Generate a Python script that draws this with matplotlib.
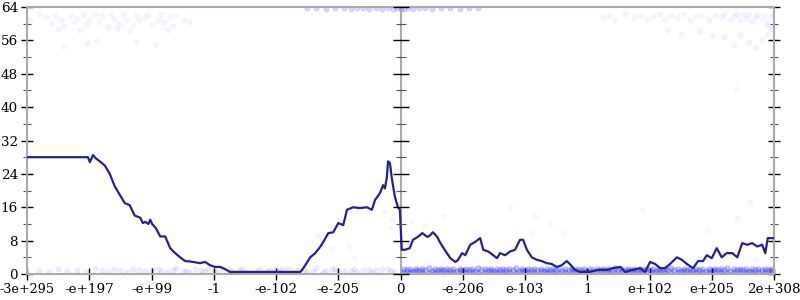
import numpy as np
import matplotlib.pyplot as plt

# tick labels along x (positions -6..6, one per label)
xlabels = ['-3e+295', '-e+197', '-e+99', '-1', '-e-102', '-e-205', '0',
           '-e-206', 'e-103', '1', 'e+102', 'e+205', '2e+308']
yticks = [0, 8, 16, 24, 32, 40, 48, 56, 64]

# main line
line_x = [-6.00, -5.02, -4.99, -4.94, -4.90, -4.83, -4.75, -4.67, -4.59, -4.51, -4.43, -4.35,
          -4.27, -4.18, -4.14, -4.10, -4.05, -4.02, -3.99, -3.93, -3.86, -3.78, -3.70, -3.62,
          -3.54, -3.46, -3.38, -3.30, -3.22, -3.14, -3.06, -2.98, -2.90, -2.82, -2.74, -2.66,
          -2.20, -1.61, -1.58, -1.53, -1.45, -1.37, -1.29, -1.24, -1.16, -1.08, -1.00, -0.92,
          -0.86, -0.76, -0.65, -0.54, -0.46, -0.41, -0.33, -0.28, -0.25, -0.22, -0.20, -0.17,
          -0.14, -0.09, -0.04, -0.01, 0.02, 0.07, 0.15, 0.20, 0.28, 0.35, 0.43, 0.47,
          0.52, 0.59, 0.63, 0.71, 0.80, 0.88, 0.92, 0.99, 1.04, 1.12, 1.20, 1.28,
          1.33, 1.41, 1.49, 1.55, 1.60, 1.68, 1.76, 1.84, 1.92, 1.97, 2.03, 2.11,
          2.19, 2.27, 2.35, 2.43, 2.51, 2.59, 2.67, 2.72, 2.80, 2.88, 3.04, 3.17,
          3.20, 3.32, 3.41, 3.53, 3.61, 3.73, 3.85, 3.93, 4.01, 4.09, 4.17, 4.25,
          4.33, 4.44, 4.52, 4.60, 4.70, 4.78, 4.86, 4.92, 5.00, 5.08, 5.16, 5.24,
          5.33, 5.41, 5.49, 5.57, 5.65, 5.73, 5.81, 5.86, 5.90, 5.98]
line_y = [28, 28, 26.8, 28.5, 27.8, 27, 26, 24, 21, 19, 17, 16.5,
          14, 13.5, 12.2, 12.5, 12.0, 13, 12, 11, 9, 9, 6.2, 5,
          4, 3.1, 3, 2.8, 2.6, 2.9, 2.1, 1.7, 1.7, 1.2, 0.5, 0.5,
          0.5, 0.5, 1.0, 2.1, 4, 5, 6.5, 7.7, 9.8, 10, 12.2, 11.7,
          15.4, 16, 15.8, 16, 15.4, 17.7, 19.4, 21.3, 20.5, 23, 27, 26.6,
          23, 18.5, 16, 15.4, 5.8, 5.8, 6.2, 8.2, 8.9, 9.8, 8.9, 9.2,
          10, 8.9, 7.7, 5.8, 3.8, 2.9, 3.3, 5, 4.5, 7, 7.7, 8.6,
          5.8, 5.4, 4.5, 3.8, 5, 4.5, 5.4, 5.8, 8.2, 8.2, 5.8, 4,
          3.4, 3.1, 2.6, 2.4, 1.7, 2.1, 3.1, 2.4, 1.0, 0.5, 0.5, 1.0,
          1.0, 1.0, 1.4, 1.7, 0.5, 1.0, 1.4, 0.5, 2.9, 2.4, 1.4, 1.4,
          2.4, 4, 3.4, 2.4, 1.4, 3.1, 3.1, 4.5, 3.8, 6.2, 4, 5,
          5, 4, 7.4, 7, 7.4, 6.6, 7, 5, 8.6, 8.6]

# faint samples near the bottom, left half
bl_x = [-5.8, -5.5, -5.2, -4.9, -4.7, -4.5, -4.3, -4.1, -3.9, -3.75, -3.6, -3.45,
        -3.3, -3.15, -3.0, -2.85, -2.7, -2.55, -2.4, -2.25, -2.1, -1.95, -1.8, -1.65,
        -1.5, -1.35, -1.2, -1.05, -0.9, -0.75, -0.6, -0.45, -0.3, -0.15,
        -4.0, -3.5, -3.1, -2.6, -2.3, -1.9, -1.4, -1.1, -0.8, -0.5, -0.2,
        -5.65, -5.35, -5.05, -4.8, -4.6, -4.4, -4.2, -3.85, -3.65, -3.4, -3.2, -2.95,
        -2.75, -2.5, -2.15, -2.0, -1.75, -1.55, -1.25, -1.0, -0.7, -0.4, -0.1]
bl_y = [0.6, 1.2, 0.9, 1.4, 0.5, 1.0, 1.3, 0.7, 1.1, 0.5, 1.4, 0.8,
        1.2, 0.6, 1.0, 1.4, 0.7, 1.1, 0.5, 1.3, 0.9, 0.6, 1.2, 1.0,
        0.5, 1.4, 0.8, 1.1, 0.6, 1.3, 0.9, 0.5, 1.2, 0.8,
        1.0, 0.7, 1.2, 0.9, 0.6, 1.1, 0.8, 1.3, 0.6, 1.0, 1.2,
        0.4, 0.8, 0.5, 0.9, 1.2, 0.4, 0.9, 0.6, 1.0, 0.4, 0.9, 0.5,
        1.0, 0.4, 0.7, 1.1, 0.4, 0.9, 0.4, 0.7, 0.4, 0.9, 0.5]

# dense samples near the bottom, right half
br_x = [0.05, 0.15, 0.25, 0.35, 0.45, 0.55, 0.65, 0.75, 0.85, 0.95, 1.05, 1.15,
        1.25, 1.35, 1.45, 1.55, 1.65, 1.75, 1.85, 1.95, 2.05, 2.15, 2.25, 2.35,
        2.45, 2.55, 2.65, 2.75, 2.85, 2.95, 3.05, 3.15, 3.25, 3.35, 3.45, 3.55,
        3.65, 3.75, 3.85, 3.95, 4.05, 4.15, 4.25, 4.35, 4.45, 4.55, 4.65, 4.75,
        4.85, 4.95, 5.05, 5.15, 5.25, 5.35, 5.45, 5.55, 5.65, 5.75, 5.85, 5.95]
br_x_mid = [0.1, 0.2, 0.3, 0.4, 0.5, 0.6, 0.7, 0.8, 0.9, 1.0, 1.1, 1.2,
            1.3, 1.4, 1.5, 1.6, 1.7, 1.8, 1.9, 2.0, 2.1, 2.2, 2.3, 2.4,
            2.5, 2.6, 2.7, 2.8, 2.9, 3.0, 3.1, 3.2, 3.3, 3.4, 3.5, 3.6,
            3.7, 3.8, 3.9, 4.0, 4.1, 4.2, 4.3, 4.4, 4.5, 4.6, 4.7, 4.8,
            4.9, 5.0, 5.1, 5.2, 5.3, 5.4, 5.5, 5.6, 5.7, 5.8, 5.9, 5.97]
br_y_low = [0.5, 0.4, 0.6, 0.5, 0.3, 0.5, 0.6, 0.4, 0.5, 0.6, 0.4, 0.5,
            0.3, 0.5, 0.6, 0.4, 0.5, 0.5, 0.3, 0.6, 0.4, 0.5, 0.6, 0.4,
            0.5, 0.3, 0.5, 0.6, 0.4, 0.5, 0.5, 0.4, 0.6, 0.5, 0.3, 0.5,
            0.6, 0.4, 0.5, 0.5, 0.4, 0.6, 0.5, 0.3, 0.5, 0.6, 0.4, 0.5,
            0.5, 0.4, 0.6, 0.5, 0.3, 0.5, 0.6, 0.4, 0.5, 0.5, 0.4, 0.6]
br_y_mid = [0.9, 0.8, 0.9, 1.0, 0.8, 0.9, 0.9, 1.0, 0.8, 0.9, 0.9, 0.8,
            1.0, 0.9, 0.8, 0.9, 1.0, 0.9, 0.8, 0.9, 0.9, 1.0, 0.8, 0.9,
            0.9, 0.8, 1.0, 0.9, 0.9, 0.8, 0.9, 1.0, 0.9, 0.8, 0.9, 0.9,
            1.0, 0.8, 0.9, 0.9, 0.8, 1.0, 0.9, 0.9, 0.8, 0.9, 1.0, 0.9,
            0.8, 0.9, 0.9, 1.0, 0.8, 0.9, 0.9, 0.8, 1.0, 0.9, 0.9, 0.8]
br_y_high = [1.2, 1.3, 1.1, 1.2, 1.4, 1.2, 1.1, 1.3, 1.2, 1.1, 1.3, 1.2,
             1.4, 1.2, 1.1, 1.3, 1.2, 1.2, 1.4, 1.1, 1.3, 1.2, 1.1, 1.3,
             1.2, 1.4, 1.2, 1.1, 1.3, 1.2, 1.2, 1.3, 1.1, 1.2, 1.4, 1.2,
             1.1, 1.3, 1.2, 1.2, 1.3, 1.1, 1.2, 1.4, 1.2, 1.1, 1.3, 1.2,
             1.2, 1.3, 1.1, 1.2, 1.4, 1.2, 1.1, 1.3, 1.2, 1.2, 1.3, 1.1]

# samples near the top
tl_x = [-5.95, -5.8, -5.7, -5.6, -5.55, -5.45, -5.4, -5.3, -5.25, -5.2, -5.1, -5.05,
        -5.0, -4.9, -4.85, -4.8, -4.7, -4.65, -4.6, -4.5, -4.45, -4.4, -4.3, -4.25,
        -4.2, -4.1, -4.05, -4.0, -3.9, -3.85, -3.8, -3.7, -3.65, -3.6, -3.5, -3.4,
        -5.41, -5.04, -4.88, -4.25, -3.93, -5.5, -5.15, -4.55, -4.35, -3.75]
tl_y = [61.0, 62.3, 61.5, 60.2, 62.0, 61.0, 59.5, 62.2, 60.5, 61.4, 62.3, 59.8,
        61.0, 62.4, 60.5, 61.8, 59.3, 62.0, 61.2, 60.0, 62.3, 61.0, 59.6, 62.1,
        60.8, 61.5, 62.3, 59.8, 61.0, 62.4, 60.3, 61.6, 59.5, 62.0, 61.0, 60.5,
        54.7, 55.4, 55.9, 55.6, 54.9, 58.8, 58.5, 58.9, 58.2, 58.6]

tr_x = [3.25, 3.35, 3.45, 3.6, 3.75, 3.85, 3.95, 4.05, 4.15, 4.25, 4.35, 4.45,
        4.55, 4.65, 4.75, 4.85, 4.95, 5.05, 5.15, 5.2, 5.3, 5.35, 5.4, 5.45,
        5.5, 5.55, 5.6, 5.65, 5.7, 5.75, 5.8, 5.85, 5.9, 5.95, 5.98, 5.88,
        4.3, 4.5, 4.8, 5.0, 5.2, 5.45, 5.6, 5.8, 5.95, 5.35, 5.7, 5.9]
tr_y = [61.5, 62.0, 61.0, 62.3, 61.5, 62.2, 60.8, 61.8, 62.3, 61.0, 62.0, 61.5,
        62.3, 60.8, 61.8, 62.2, 61.0, 62.0, 61.5, 62.4, 60.8, 61.8, 62.3, 61.0,
        62.0, 61.3, 62.4, 60.7, 61.8, 62.2, 61.0, 62.0, 60.5, 61.5, 62.3, 59.8,
        58.5, 57.5, 58.2, 57.0, 56.8, 57.2, 55.5, 56.2, 58.8, 55.0, 54.5, 57.5]

tc_x = [-1.5, -1.35, -1.2, -1.05, -0.9, -0.8, -0.7, -0.6, -0.5, -0.4, -0.3, -0.2,
        -0.12, -0.06, 0.0, 0.06, 0.12, 0.2, 0.3, 0.4, 0.5, 0.65, 0.8, 0.95, 1.1, 1.25]
tc_y = [63.7, 63.8, 63.6, 63.8, 63.7, 63.6, 63.8, 63.7, 63.5, 63.8, 63.6, 63.7,
        63.5, 63.8, 63.6, 63.5, 63.7, 63.6, 63.8, 63.7, 63.6, 63.8, 63.7, 63.6, 63.8, 63.7]

# scattered stragglers in the middle
mid_x = [-1.33, -1.10, -0.83, -0.75, -0.27, -0.14, -0.15, 0.68, 0.18, 0.39, 1.76, 2.16,
         2.40, 2.11, 2.61, 1.23, 3.88, 4.92, 5.41, 5.61, 5.69, 5.41]
mid_y = [9.4, 6.0, 6.7, 3.8, 14.9, 13.0, 11.3, 14.0, 12.6, 11.8, 16.0, 13.9,
         12.0, 9.8, 9.8, 9.8, 15.4, 10.6, 13.4, 17.3, 3.4, 44.3]

fig = plt.figure(figsize=(8, 3), dpi=100)
ax = fig.add_axes([27 / 800, 26 / 300, 747 / 800, 267 / 300])

blue = '#0000ff'
ax.scatter(bl_x, bl_y, s=14, color=blue, alpha=0.07, lw=0.5, zorder=2)
for ys in (br_y_low, br_y_high):
    ax.scatter(br_x, ys, s=16, color=blue, alpha=0.22, lw=0.5, zorder=2)
ax.scatter(br_x_mid, br_y_mid, s=16, color=blue, alpha=0.22, lw=0.5, zorder=2)
ax.scatter(tl_x, tl_y, s=14, color=blue, alpha=0.035, lw=0.5, zorder=2)
ax.scatter(tr_x, tr_y, s=14, color=blue, alpha=0.04, lw=0.5, zorder=2)
ax.scatter(tc_x, tc_y, s=14, color=blue, alpha=0.15, lw=0.5, zorder=2)
ax.scatter(mid_x, mid_y, s=14, color=blue, alpha=0.03, lw=0.5, zorder=2)

ax.plot(line_x, line_y, color='#23238e', lw=1.6, zorder=4)

ax.set_xlim(-6, 6)
ax.set_ylim(0, 64)

gray = '#aaaaaa'
for s in ax.spines.values():
    s.set_color(gray)
    s.set_linewidth(1.5)
ax.axvline(0, color=gray, lw=1.5, zorder=3)

ax.set_xticks(range(-6, 7))
ax.set_xticklabels(xlabels)
ax.set_yticks(yticks)
ax.set_yticks(range(4, 64, 8), minor=True)
ax.tick_params(axis='both', which='major', direction='inout', length=9, width=1,
               color='black', labelsize=9.7, right=True, pad=2)
ax.tick_params(axis='y', which='minor', direction='inout', length=6, width=0.8,
               color='#555555', right=True)
for lab in ax.get_xticklabels() + ax.get_yticklabels():
    lab.set_family('DejaVu Serif')
ax.get_xticklabels()[0].set_fontsize(9.2)

# ticks on the centre axis
ax.plot(np.zeros(len(yticks)), yticks, ls='none', marker='_', ms=12,
        mew=1, color='black', zorder=5, clip_on=False)
ax.plot(np.zeros(8), range(4, 64, 8), ls='none', marker='_', ms=7,
        mew=0.8, color='#555555', zorder=5)

fig.savefig('out.png', dpi=100)
